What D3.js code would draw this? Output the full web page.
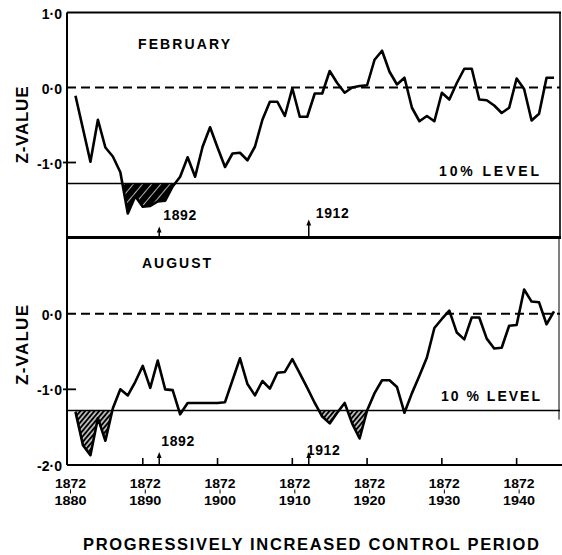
<!DOCTYPE html>
<html><head><meta charset="utf-8">
<script src="https://cdn.jsdelivr.net/npm/d3@7"></script>
<style>
body{margin:0;background:#fff}
text{font-family:"Liberation Sans",Arial,sans-serif;font-weight:bold;fill:#000}
</style>
</head><body>
<svg id="chart" width="562" height="555"></svg>
<script>
// ---------- data ----------
const years = [1881,1882,1883,1884,1885,1886,1887,1888,1889,1890,
  1891,1892,1893,1894,1895,1896,1897,1898,1899,1900,
  1901,1902,1903,1904,1905,1906,1907,1908,1909,1910,
  1911,1912,1913,1914,1915,1916,1917,1918,1919,1920,
  1921,1922,1923,1924,1925,1926,1927,1928,1929,1930,
  1931,1932,1933,1934,1935,1936,1937,1938,1939,1940,
  1941,1942,1943,1944,1945];
const february = [-0.11,-0.55,-0.99,-0.43,-0.80,-0.92,-1.13,-1.68,-1.45,-1.59,
  -1.58,-1.52,-1.51,-1.32,-1.19,-0.93,-1.19,-0.79,-0.53,-0.80,
  -1.06,-0.88,-0.87,-0.97,-0.79,-0.43,-0.19,-0.19,-0.38,-0.01,
  -0.39,-0.39,-0.08,-0.08,0.22,0.06,-0.07,0.00,0.02,0.03,
  0.37,0.49,0.21,0.04,0.13,-0.27,-0.45,-0.38,-0.45,-0.07,
  -0.16,0.06,0.25,0.25,-0.16,-0.17,-0.24,-0.34,-0.27,0.12,
  -0.02,-0.44,-0.35,0.13,0.13];
const august = [-1.30,-1.74,-1.87,-1.38,-1.68,-1.25,-1.00,-1.08,-0.90,-0.69,
  -0.98,-0.62,-1.00,-1.01,-1.33,-1.18,-1.18,-1.18,-1.18,-1.18,
  -1.17,-0.88,-0.59,-0.93,-1.08,-0.89,-0.99,-0.78,-0.77,-0.60,
  -0.79,-0.98,-1.18,-1.36,-1.45,-1.31,-1.18,-1.45,-1.65,-1.28,
  -1.05,-0.88,-0.88,-0.97,-1.31,-1.05,-0.82,-0.58,-0.19,-0.07,
  0.04,-0.25,-0.34,-0.05,-0.05,-0.33,-0.46,-0.45,-0.16,-0.15,
  0.32,0.16,0.15,-0.14,0.03];
const level10 = -1.28;
const decadeTicks = [1880,1890,1900,1910,1920,1930,1940];
const periodStart = "1872";
const markerYears = [1892, 1912];
const yTickValues = [1, 0, -1, -2];
const yTickLabels = ["1·0", "0·0", "-1·0", "-2·0"];
const febShaded = [[1886, 1895]];
const augShaded = [[1880, 1887], [1912, 1922]];

// ---------- setup ----------
const svg = d3.select("#chart");
const x = d3.scaleLinear().domain([1880, 1945.8]).range([68, 560]);
const yTop = d3.scaleLinear().domain([-2, 1]).range([237.5, 12.5]);
const yBot = d3.scaleLinear().domain([-2, 1]).range([465, 238]);
const X0 = x(1880) - 1, X1 = 560;

const defs = svg.append("defs");
// top hatch: black with sparse white lines
const pt = defs.append("pattern").attr("id","hatchTop").attr("patternUnits","userSpaceOnUse")
  .attr("width",7).attr("height",7).attr("patternTransform","rotate(40)");
pt.append("rect").attr("width",7).attr("height",7).attr("fill","#000");
pt.append("line").attr("x1",3.5).attr("x2",3.5).attr("y1",0).attr("y2",7).attr("stroke","#fff").attr("stroke-width",0.7);
// bottom hatch: dense black lines on white
const pb = defs.append("pattern").attr("id","hatchBot").attr("patternUnits","userSpaceOnUse")
  .attr("width",3.6).attr("height",3.6).attr("patternTransform","rotate(40)");
pb.append("rect").attr("width",3.6).attr("height",3.6).attr("fill","#fff");
pb.append("line").attr("x1",1.8).attr("x2",1.8).attr("y1",0).attr("y2",3.6).attr("stroke","#000").attr("stroke-width",2.3);

function panel(id, values, y, shadedSpans, hatch, opts) {
  const data = years.map((yr, i) => ({year: yr, v: values[i]}));
  const g = svg.append("g");
  const cp = defs.append("clipPath").attr("id", "clip" + id);
  shadedSpans.forEach(s => {
    cp.append("rect").attr("x", x(s[0])).attr("width", x(s[1]) - x(s[0]))
      .attr("y", y(level10)).attr("height", y(-2) - y(level10));
  });
  const area = d3.area().x(d => x(d.year)).y0(y(level10)).y1(d => y(d.v));
  g.append("path").datum(data).attr("d", area).attr("fill", "url(#" + hatch + ")")
    .attr("clip-path", "url(#clip" + id + ")");
  g.append("line").attr("x1", X0).attr("x2", X1).attr("y1", y(0)).attr("y2", y(0))
    .attr("stroke", "#000").attr("stroke-width", 2).attr("stroke-dasharray", "9,5");
  g.append("line").attr("x1", X0).attr("x2", X1).attr("y1", y(level10)).attr("y2", y(level10))
    .attr("stroke", "#000").attr("stroke-width", 1.6);
  const line = d3.line().x(d => x(d.year)).y(d => y(d.v));
  g.append("path").datum(data).attr("d", line).attr("fill", "none")
    .attr("stroke", "#000").attr("stroke-width", 2.6).attr("stroke-linejoin", "round");
  opts.ticks.forEach(i => {
    const v = yTickValues[i];
    g.append("text").attr("x", 62).attr("y", y(v) + opts.labelDy).attr("text-anchor", "end")
      .attr("font-size", 14).attr("dominant-baseline", "central").text(yTickLabels[i]);
    if (v === -1) {
      g.append("line").attr("x1", 63).attr("x2", 76).attr("y1", y(v)).attr("y2", y(v))
        .attr("stroke", "#000").attr("stroke-width", 1.8);
    }
  });
  g.append("text").attr("x", opts.monthX).attr("y", opts.monthY).attr("font-size", 14)
    .attr("textLength", opts.monthW).attr("lengthAdjust", "spacing").text(opts.month);
  g.append("text").attr("x", opts.levX).attr("y", opts.levY).attr("font-size", 14)
    .attr("textLength", opts.levW).attr("lengthAdjust", "spacing").text(opts.levText);
  g.append("text").attr("transform", `translate(22,${opts.zY}) rotate(-90)`)
    .attr("text-anchor", "middle").attr("dominant-baseline", "central")
    .attr("font-size", 17).attr("textLength", opts.zW).attr("lengthAdjust", "spacing").text("Z-VALUE");
  markerYears.forEach((my, i) => {
    const mx = x(my) + 1.5;
    const base = y(-2);
    const tipY = base - opts.arrowLen[i];
    g.append("line").attr("x1", mx).attr("x2", mx).attr("y1", base).attr("y2", tipY + 3)
      .attr("stroke", "#000").attr("stroke-width", 1.5);
    g.append("path").attr("d", `M${mx},${tipY} L${mx - 2.4},${tipY + 6} L${mx + 2.4},${tipY + 6} Z`).attr("fill", "#000");
    g.append("text").attr("x", mx + opts.mLabDx[i]).attr("y", opts.mLabY[i])
      .attr("font-size", 14).attr("textLength", 33)
      .attr("lengthAdjust", "spacing").text(String(my));
  });
}

panel("T", february, yTop, febShaded, "hatchTop", {
  ticks: [0, 1, 2], labelDy: 1,
  month: "FEBRUARY", monthX: 138, monthY: 48.5, monthW: 92,
  levText: "10% LEVEL", levX: 439, levY: 175.5, levW: 100,
  zY: 125, zW: 77,
  arrowLen: [11, 18], mLabDx: [4, 7], mLabY: [220, 218]
});
panel("B", august, yBot, augShaded, "hatchBot", {
  ticks: [1, 2, 3], labelDy: 1,
  month: "AUGUST", monthX: 142, monthY: 267.5, monthW: 69,
  levText: "10 % LEVEL", levX: 441, levY: 400.5, levW: 99,
  zY: 345, zW: 80,
  arrowLen: [13, 13], mLabDx: [2, -2], mLabY: [446, 455]
});

// ---------- frame ----------
const fr = svg.append("g").attr("stroke", "#000").attr("fill", "none");
fr.append("line").attr("x1", X0).attr("x2", X1 + 1).attr("y1", yTop(1)).attr("y2", yTop(1)).attr("stroke-width", 1.8);
fr.append("line").attr("x1", X0).attr("x2", X0).attr("y1", yTop(1)).attr("y2", yBot(-2)).attr("stroke-width", 2);
fr.append("line").attr("x1", X1).attr("x2", X1).attr("y1", yTop(1)).attr("y2", yTop(-2)).attr("stroke-width", 1.6);
fr.append("line").attr("x1", X1 - 1).attr("x2", X1 - 1).attr("y1", yTop(-2)).attr("y2", yBot(-1.4)).attr("stroke-width", 1);
fr.append("line").attr("x1", X0).attr("x2", X1 + 1).attr("y1", yTop(-2)).attr("y2", yTop(-2)).attr("stroke-width", 2.8);
fr.append("line").attr("x1", X0).attr("x2", 562).attr("y1", yBot(-2)).attr("y2", yBot(-2)).attr("stroke-width", 2);

decadeTicks.forEach(d => {
  const tx = x(d);
  if (d > 1880) {
    svg.append("line").attr("x1", tx).attr("x2", tx).attr("y1", yBot(-2)).attr("y2", yBot(-2) - 7)
      .attr("stroke", "#000").attr("stroke-width", 1.6);
  }
  const cx = tx + 2.5;
  svg.append("text").attr("x", cx).attr("y", 488).attr("text-anchor", "middle")
    .attr("font-size", 13.5).attr("textLength", 31).attr("lengthAdjust", "spacingAndGlyphs").text(periodStart);
  svg.append("line").attr("x1", cx).attr("x2", cx).attr("y1", 489.5).attr("y2", 493.5)
    .attr("stroke", "#000").attr("stroke-width", 1);
  svg.append("text").attr("x", cx).attr("y", 504.5).attr("text-anchor", "middle")
    .attr("font-size", 13.5).attr("textLength", 32).attr("lengthAdjust", "spacingAndGlyphs").text(String(d));
});

svg.append("text").attr("x", 311).attr("y", 549.5).attr("text-anchor", "middle")
  .attr("font-size", 16.5).attr("textLength", 456).attr("lengthAdjust", "spacing")
  .text("PROGRESSIVELY INCREASED CONTROL PERIOD");
</script>
</body></html>
